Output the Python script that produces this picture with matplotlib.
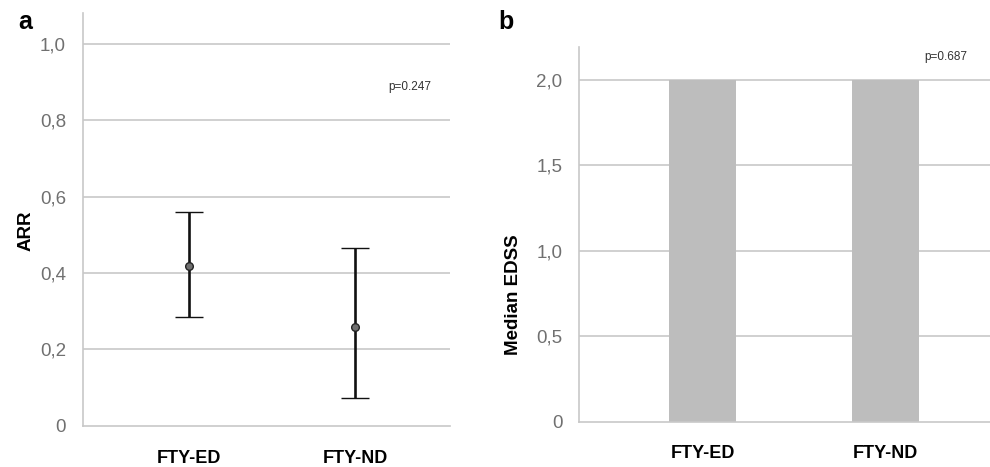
import matplotlib
matplotlib.use("Agg")
import matplotlib.pyplot as plt
import numpy as np

categories = ["FTY-ED", "FTY-ND"]
arr_mean = [0.418, 0.259]
arr_low = [0.284, 0.072]
arr_high = [0.560, 0.466]
edss_median = [2.0, 2.0]
arr_ticks = [0, 0.2, 0.4, 0.6, 0.8, 1.0]
arr_ticklabels = ["0", "0,2", "0,4", "0,6", "0,8", "1,0"]
edss_ticks = [0, 0.5, 1.0, 1.5, 2.0]
edss_ticklabels = ["0", "0,5", "1,0", "1,5", "2,0"]

plt.rcParams['font.family'] = ['Liberation Sans', 'DejaVu Sans']

fig = plt.figure(figsize=(9.9, 4.67), dpi=100)
grid_c = "#c8c8c8"
tick_c = "#707070"

def style(ax):
    for s in ["top", "right"]:
        ax.spines[s].set_visible(False)
    for s in ["left", "bottom"]:
        ax.spines[s].set_color(grid_c)
        ax.spines[s].set_linewidth(1.2)
    ax.tick_params(axis="both", length=0)
    ax.tick_params(axis="y", labelsize=13.5, labelcolor=tick_c, pad=12)
    ax.tick_params(axis="x", labelsize=13, pad=17)
    for lab in ax.get_xticklabels():
        lab.set_fontweight("bold")

# Panel a
ax1 = fig.add_axes([0.0835, 0.088, 0.371, 0.884])
x = np.arange(len(categories))
ax1.set_xlim(-0.643, 1.573)
ax1.set_ylim(0, 1.08)
for t in arr_ticks[1:]:
    ax1.axhline(t, color=grid_c, lw=1.2, zorder=0)
mean = np.array(arr_mean)
yerr = [mean - np.array(arr_low), np.array(arr_high) - mean]
ax1.errorbar(x, mean, yerr=yerr, fmt="o", color="#111111", ecolor="#111111",
             elinewidth=1.9, capsize=10, capthick=1.9, markersize=5.5,
             markerfacecolor="#707070", markeredgecolor="#222222", markeredgewidth=1, zorder=3)
ax1.set_xticks(x)
ax1.set_xticklabels(categories)
ax1.set_yticks(arr_ticks)
ax1.set_yticklabels(arr_ticklabels)
ax1.set_ylabel("ARR", fontsize=13.5, fontweight="bold")
ax1.yaxis.set_label_coords(-0.13, 0.472)
style(ax1)
fig.text(410 / 990, 1 - 87 / 467, "p=0.247", fontsize=8.5, color="#333333", ha="center", va="center")
fig.text(25 / 990, 1 - 22 / 467, "a", fontsize=18, fontweight="bold", ha="center", va="center")

# Panel b
ax2 = fig.add_axes([0.585, 0.097, 0.415, 0.803])
ax2.set_xlim(-0.677, 1.575)
ax2.set_ylim(0, 2.195)
for t in edss_ticks[1:]:
    ax2.axhline(t, color=grid_c, lw=1.2, zorder=0)
ax2.bar(x, edss_median, width=0.367, color="#bdbdbd", zorder=2)
ax2.set_xticks(x)
ax2.set_xticklabels(categories)
ax2.set_yticks(edss_ticks)
ax2.set_yticklabels(edss_ticklabels)
ax2.set_ylabel("Median EDSS", fontsize=13.5, fontweight="bold")
ax2.yaxis.set_label_coords(-0.139, 0.34)
style(ax2)
fig.text(946 / 990, 1 - 57 / 467, "p=0.687", fontsize=8.5, color="#333333", ha="center", va="center")
fig.text(506 / 990, 1 - 22 / 467, "b", fontsize=18, fontweight="bold", ha="center", va="center")

fig.savefig("out.png", dpi=100)
